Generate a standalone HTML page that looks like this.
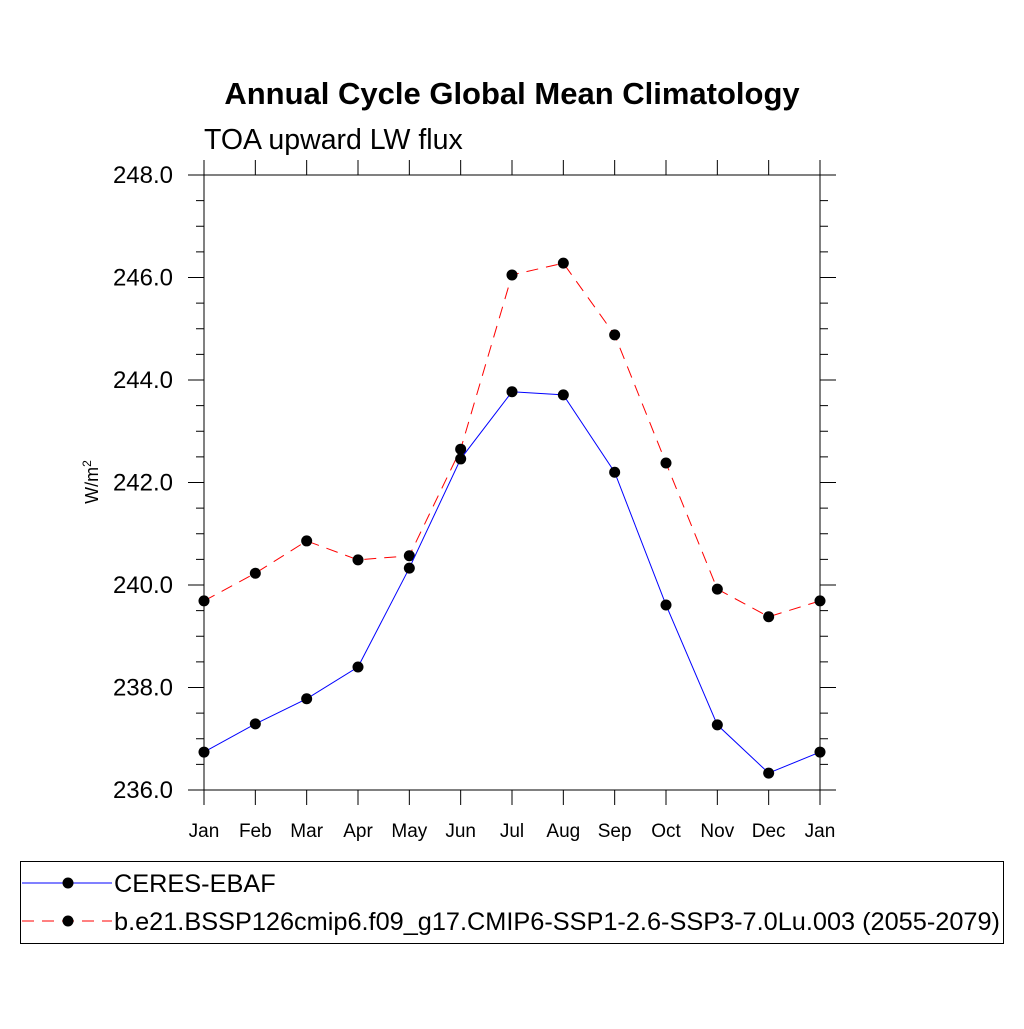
<!DOCTYPE html>
<html><head><meta charset="utf-8"><style>
body{margin:0;background:#fff;}
svg text{font-family:"Liberation Sans",sans-serif;}
</style></head><body>
<svg id="chart" width="1024" height="1024" viewBox="0 0 1024 1024" xmlns="http://www.w3.org/2000/svg">
<rect width="1024" height="1024" fill="#fff"/>
<text x="512" y="104" text-anchor="middle" font-size="31" font-weight="bold">Annual Cycle Global Mean Climatology</text>
<text x="204" y="149" font-size="28.5">TOA upward LW flux</text>
<text transform="translate(98,482) rotate(-90)" text-anchor="middle" font-size="18">W/m<tspan dy="-7" font-size="12">2</tspan></text>
<g id="axes"></g>
<g id="series"></g>
<rect x="20.5" y="861.5" width="983" height="82" fill="none" stroke="#000" stroke-width="1"/>
<g>
<line x1="22" y1="883" x2="112" y2="883" stroke="#0000ff" stroke-width="1"/>
<circle cx="68" cy="883" r="5.5" fill="#000"/>
<text x="114" y="892" font-size="25.3">CERES-EBAF</text>
</g>
<g>
<line x1="22" y1="921" x2="112" y2="921" stroke="#ff0000" stroke-width="1" stroke-dasharray="12,8"/>
<circle cx="68" cy="921" r="5.5" fill="#000"/>
<text x="114" y="930" font-size="25.3">b.e21.BSSP126cmip6.f09_g17.CMIP6-SSP1-2.6-SSP3-7.0Lu.003 (2055-2079)</text>
</g>
</svg>
<script>
const months = ["Jan","Feb","Mar","Apr","May","Jun","Jul","Aug","Sep","Oct","Nov","Dec","Jan"];
const ceresValues = [236.74,237.29,237.78,238.40,240.33,242.46,243.77,243.71,242.20,239.61,237.27,236.33,236.74];
const modelValues = [239.69,240.23,240.86,240.49,240.57,242.65,246.05,246.28,244.88,242.38,239.92,239.38,239.69];
const yTickLabels = ["236.0","238.0","240.0","242.0","244.0","246.0","248.0"];
const NS="http://www.w3.org/2000/svg";
const X0=204,X1=820,Y0=175,Y1=790,YMIN=236,YMAX=248;
const xs=i=>X0+i*(X1-X0)/(months.length-1);
const ys=v=>Y1-(v-YMIN)/(YMAX-YMIN)*(Y1-Y0);
function mk(t,a,p){const e=document.createElementNS(NS,t);for(const k in a)e.setAttribute(k,a[k]);p.appendChild(e);return e;}
const ax=document.getElementById('axes');
const frame=mk('rect',{x:X0,y:Y0,width:X1-X0,height:Y1-Y0,fill:'none',stroke:'#000','stroke-width':1},ax);


for(let v=YMIN;v<=YMAX+1e-9;v+=0.5){
  const y=ys(v);const major=Math.abs(v%2)<1e-9;const L=major?16:8;
  mk('line',{x1:X0,y1:y,x2:X0-L,y2:y,stroke:'#000'},ax);
  mk('line',{x1:X1,y1:y,x2:X1+L,y2:y,stroke:'#000'},ax);
}
yTickLabels.forEach(s=>{const t=mk('text',{x:X0-31,y:ys(parseFloat(s))+8,'text-anchor':'end','font-size':24},ax);t.textContent=s;

});
months.forEach((m,i)=>{const x=xs(i);
  mk('line',{x1:x,y1:Y1,x2:x,y2:Y1+15,stroke:'#000'},ax);
  mk('line',{x1:x,y1:Y0,x2:x,y2:Y0-15,stroke:'#000'},ax);
  const t=mk('text',{x:x,y:837,'text-anchor':'middle','font-size':19},ax);t.textContent=m;
  
  });
const sg=document.getElementById('series');
function series(vals,color,dash,name){
  const g=mk('g',{},sg);
  
  
  const a={points:vals.map((v,i)=>xs(i)+','+ys(v)).join(' '),fill:'none',stroke:color,'stroke-width':1};
  if(dash)a['stroke-dasharray']=dash;
  mk('polyline',a,g);
  vals.forEach((v,i)=>{const c=mk('circle',{cx:xs(i),cy:ys(v),r:5.5,fill:'#000'},g);
    
    });
}
series(modelValues,'#ff0000','12,8','model-series');
series(ceresValues,'#0000ff',null,'ceres-series');
</script>
</body></html>
